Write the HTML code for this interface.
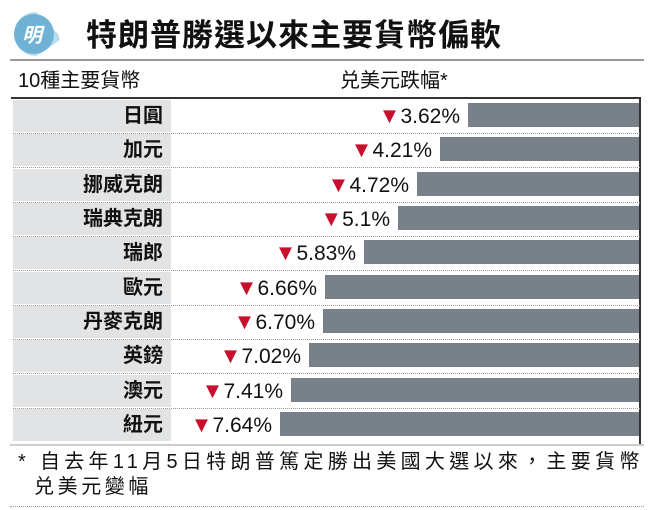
<!DOCTYPE html>
<html><head><meta charset="utf-8"><style>
body{margin:0;width:650px;height:510px;background:#fff;overflow:hidden;position:relative;font-family:"Liberation Sans","Noto Sans CJK TC",sans-serif;color:#111}
.a{position:absolute}
.lab{position:absolute;left:13px;width:158px;background:#e2e3e4;text-align:right;font-size:20px;font-weight:bold;box-sizing:border-box;padding-right:8px}
.bar{position:absolute;background:#78818a;height:24px}
.val{position:absolute;font-size:21px;text-align:right;white-space:nowrap}
.tri{color:#c8102e;font-size:22px}
.sep{position:absolute;left:13px;width:627px;border-top:1px dotted #999}
</style></head><body>
<svg class="a" style="left:8px;top:8px" width="70" height="50"><path d="M28 4 A22 22 0 1 0 28 48 L52 32 L50 26 Z" fill="#b9dced"/><circle cx="26" cy="26" r="20" fill="#6fb2d6"/><text x="14" y="34" font-size="20" font-weight="bold" fill="#fff" font-style="italic" font-family="Noto Sans CJK TC">明</text></svg>
<div class="a" style="left:86px;top:12px;font-size:31px;font-weight:bold;letter-spacing:1px;font-family:'Noto Sans CJK TC',sans-serif;line-height:42px">特朗普勝選以來主要貨幣偏軟</div>
<div class="a" style="left:10px;top:59px;width:634px;border-top:2px solid #999"></div>
<div class="a" style="left:18px;top:66px;font-size:20px;line-height:30px">10種主要貨幣</div>
<div class="a" style="left:340px;top:66px;font-size:20px;line-height:30px">兑美元跌幅*</div>
<div class="a" style="left:11px;top:97px;width:629px;border-top:2px solid #333"></div>
<div class="a" style="left:639px;top:97px;height:348px;border-left:2px solid #333"></div>
<div id="rows"></div>
<div class="a" style="left:10px;top:444px;width:634px;border-top:2px solid #ccc"></div>
<div class="a" style="left:18px;top:450px;font-size:20px;line-height:25px;letter-spacing:4.3px;white-space:nowrap">*&nbsp;自去年11月5日特朗普篤定勝出美國大選以來，主要貨幣</div>
<div class="a" style="left:34px;top:475px;font-size:20px;line-height:25px;letter-spacing:3.6px">兑美元變幅</div>
<div class="a" style="left:10px;top:506px;width:634px;border-top:1px dotted #999"></div>
<script>
var d=[["日圓","3.62%",468],["加元","4.21%",440],["挪威克朗","4.72%",417],["瑞典克朗","5.1%",398],["瑞郎","5.83%",364],["歐元","6.66%",325],["丹麥克朗","6.70%",323],["英鎊","7.02%",309],["澳元","7.41%",291],["紐元","7.64%",280]];
var h="";
d.forEach(function(r,i){var t=100+i*34.35;
h+='<div class="lab" style="top:'+t+'px;height:32px;line-height:32px">'+r[0]+'</div>';
h+='<div class="bar" style="top:'+(t+3)+'px;left:'+r[2]+'px;width:'+(639-r[2])+'px"></div>';
h+='<div class="val" style="top:'+t+'px;line-height:32px;right:'+(650-r[2]+8)+'px"><span class="tri">▼</span>'+r[1]+'</div>';
if(i<9)h+='<div class="sep" style="top:'+(t+33)+'px"></div>';});
document.getElementById("rows").innerHTML=h;
</script>
</body></html>
